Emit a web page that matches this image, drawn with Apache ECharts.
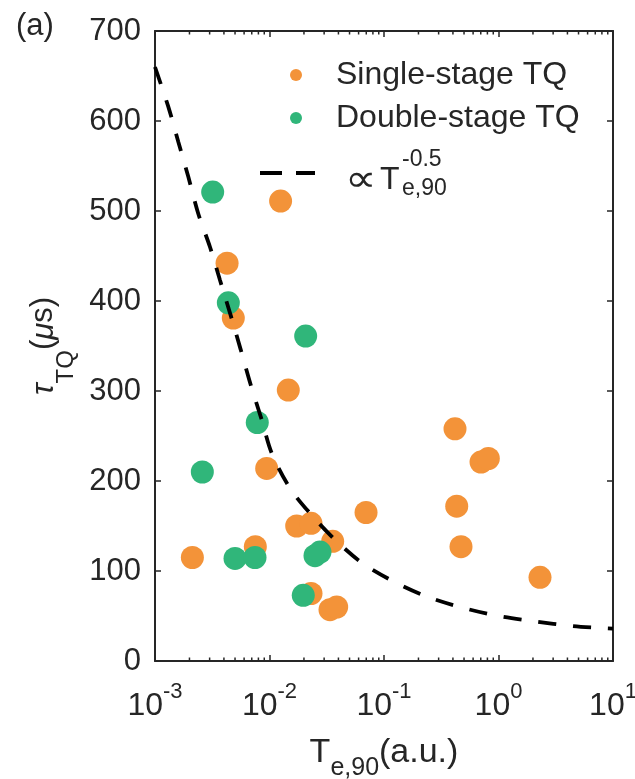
<!DOCTYPE html>
<html>
<head>
<meta charset="utf-8">
<script src="https://cdn.jsdelivr.net/npm/echarts@6/dist/echarts.min.js"></script>
<style>
  html, body { margin: 0; padding: 0; background: #fff; }
  #chart { width: 635px; height: 779px; }
</style>
</head>
<body>
<div id="chart"></div>
<script>
// Single-stage thermal quench: T_e,90 (a.u.) and tau_TQ (µs)
const singleTe  = [0.00212, 0.00426, 0.00483, 0.0125, 0.01459, 0.00945, 0.01728, 0.02304, 0.03563, 0.0697,
                   0.00752, 0.02304, 0.03376, 0.0386, 0.417, 0.7035, 0.815, 0.4316, 0.4705, 2.304];
const singleTau = [115, 442, 381, 511, 301, 214, 150, 153, 133, 165,
                   127, 75, 57, 60, 258, 221, 225, 172, 127, 93];

// Double-stage thermal quench
const doubleTe  = [0.00319, 0.00437, 0.0207, 0.00782, 0.00259, 0.0050, 0.00747, 0.02496, 0.0276, 0.01972];
const doubleTau = [521, 398, 361, 265, 210, 114, 115, 117, 121, 73];

// Trend curve  tau ∝ T_e,90^-0.5
const trendTe  = [0.001, 0.001306, 0.001597, 0.001954, 0.002388, 0.003022, 0.003697, 0.004583, 0.005604,
                  0.00685, 0.008548, 0.010452, 0.0151, 0.02336, 0.03863, 0.06594, 0.1273, 0.2437, 0.4928,
                  0.996, 2.084, 4.358, 8.81, 10];
const trendTau = [660, 616, 577, 538, 497, 460, 423, 384, 346,
                  307, 268, 231, 192, 162, 133, 108, 87, 71, 59,
                  50, 44, 39, 36.3, 36];

// Axis ranges
const xMin = 1e-3, xMax = 10;
const yMin = 0, yMax = 700, yStep = 100;

const axisColor = '#262626';
const textColor = '#262626';
const fontFamily = "'Liberation Sans', Arial, Helvetica, sans-serif";
const orange = '#F39339';
const green = '#30B67A';

const pairs = (xs, ys) => xs.map((x, i) => [x, ys[i]]);

// minor log ticks: 2..9 within each decade
const minorTicks = [];
for (let e = Math.round(Math.log10(xMin)); e < Math.round(Math.log10(xMax)); e++) {
  for (let m = 2; m <= 9; m++) minorTicks.push([m * Math.pow(10, e), yMin]);
}

const axisLineStyle = { show: true, onZero: false, lineStyle: { color: axisColor, width: 2 } };
const tickStyle = { show: true, inside: true, length: 6, lineStyle: { color: axisColor, width: 1.5 } };

const xLabelRich = {
  b: { fontSize: 32, fontFamily, color: textColor, verticalAlign: 'bottom' },
  s: { fontSize: 22, fontFamily, color: textColor, verticalAlign: 'top', padding: [0, 0, 19, 0] }
};

const chart = echarts.init(document.getElementById('chart'), null, { renderer: 'canvas' });

chart.setOption({
  animation: false,
  backgroundColor: '#fff',
  grid: { left: 155, right: 22, top: 31, bottom: 118, containLabel: false, outerBoundsMode: 'none' },
  xAxis: [
    {
      type: 'log', logBase: 10, min: xMin, max: xMax, position: 'bottom',
      axisLine: axisLineStyle, axisTick: tickStyle, splitLine: { show: false },
      axisLabel: {
        margin: 20, showMinLabel: true, showMaxLabel: true,
        formatter: v => '{b|10}{s|' + Math.round(Math.log10(v)) + '}',
        rich: xLabelRich
      },
      name: '{t|T}{sub|e,90}{t|(a.u.)}',
      nameLocation: 'middle', nameGap: 75,
      nameTextStyle: {
        rich: {
          t: { fontSize: 34, fontFamily, color: textColor, verticalAlign: 'top' },
          sub: { fontSize: 25, fontFamily, color: textColor, verticalAlign: 'top', padding: [20, 0, 0, 0] }
        }
      }
    },
    {
      type: 'log', logBase: 10, min: xMin, max: xMax, position: 'top',
      axisLine: axisLineStyle, axisTick: tickStyle, axisLabel: { show: false }, splitLine: { show: false }
    }
  ],
  yAxis: [
    {
      type: 'value', min: yMin, max: yMax, interval: yStep, position: 'left',
      axisLine: axisLineStyle, axisTick: tickStyle, splitLine: { show: false },
      axisLabel: { margin: 14, fontSize: 31, fontFamily, color: textColor },
      name: '{g|τ}{sub|TQ}{t|(}{g|μ}{t|s)}',
      nameLocation: 'middle', nameRotate: 90, nameGap: 72,
      nameTextStyle: {
        rich: {
          t: { fontSize: 31, fontFamily, color: textColor, verticalAlign: 'top' },
          g: { fontSize: 31, fontFamily, fontStyle: 'italic', color: textColor, verticalAlign: 'top' },
          sub: { fontSize: 24, fontFamily, color: textColor, verticalAlign: 'top', padding: [26, 0, 0, 0] }
        }
      }
    },
    {
      type: 'value', min: yMin, max: yMax, interval: yStep, position: 'right',
      axisLine: axisLineStyle, axisTick: tickStyle, axisLabel: { show: false }, splitLine: { show: false }
    }
  ],
  legend: {
    data: ['Single-stage TQ', 'Double-stage TQ'],
    orient: 'vertical', left: 290, top: 59, padding: 0,
    icon: 'circle', itemWidth: 12, itemHeight: 12, itemGap: 11,
    textStyle: { fontSize: 32, fontFamily, color: textColor, padding: [0, 0, 0, 29] }
  },
  graphic: [
    { type: 'text', left: 16, top: 11, style: { text: '(a)', fontSize: 31, fontFamily, fill: textColor } },
    // third legend entry: dashed trend line with stacked sub/superscript
    { type: 'line', shape: { x1: 260, y1: 173, x2: 315, y2: 173 },
      style: { stroke: '#000', lineWidth: 4, lineDash: [22, 14] } },
    { type: 'text', x: 345, y: 181, scaleX: 1.3, scaleY: 1.1,
      style: { text: '∝', fontSize: 34, fontFamily: "'DejaVu Sans', sans-serif", fill: textColor, verticalAlign: 'middle' } },
    { type: 'text', x: 380, y: 180, style: { text: 'T', fontSize: 32, fontFamily, fill: textColor, verticalAlign: 'middle' } },
    { type: 'text', x: 402, y: 160, style: { text: '-0.5', fontSize: 23, fontFamily, fill: textColor, verticalAlign: 'middle' } },
    { type: 'text', x: 402, y: 189, style: { text: 'e,90', fontSize: 23, fontFamily, fill: textColor, verticalAlign: 'middle' } }
  ],
  series: [
    {
      name: 'Single-stage TQ', type: 'scatter', xAxisIndex: 0, yAxisIndex: 0,
      data: pairs(singleTe, singleTau), symbol: 'circle', symbolSize: 23,
      itemStyle: { color: orange, opacity: 1 }, z: 2
    },
    {
      name: 'Double-stage TQ', type: 'scatter', xAxisIndex: 0, yAxisIndex: 0,
      data: pairs(doubleTe, doubleTau), symbol: 'circle', symbolSize: 23,
      itemStyle: { color: green, opacity: 1 }, z: 3
    },
    {
      name: 'trend', type: 'line', xAxisIndex: 0, yAxisIndex: 0,
      data: pairs(trendTe, trendTau), smooth: 0.3, showSymbol: false, symbol: 'none',
      lineStyle: { color: '#000', width: 3.8, type: [18, 17] }, z: 4
    },
    {
      // minor ticks on the bottom and top log axes
      type: 'custom', xAxisIndex: 0, yAxisIndex: 0, silent: true, z: 5, clip: false,
      data: minorTicks, encode: { x: 0, y: 1 },
      renderItem: (params, api) => {
        const b = api.coord([api.value(0), yMin]);
        const t = api.coord([api.value(0), yMax]);
        const st = { stroke: axisColor, lineWidth: 1.5 };
        return {
          type: 'group',
          children: [
            { type: 'line', shape: { x1: b[0], y1: b[1], x2: b[0], y2: b[1] - 3.5 }, style: st },
            { type: 'line', shape: { x1: t[0], y1: t[1], x2: t[0], y2: t[1] + 3.5 }, style: st }
          ]
        };
      }
    }
  ]
});
</script>
</body>
</html>
